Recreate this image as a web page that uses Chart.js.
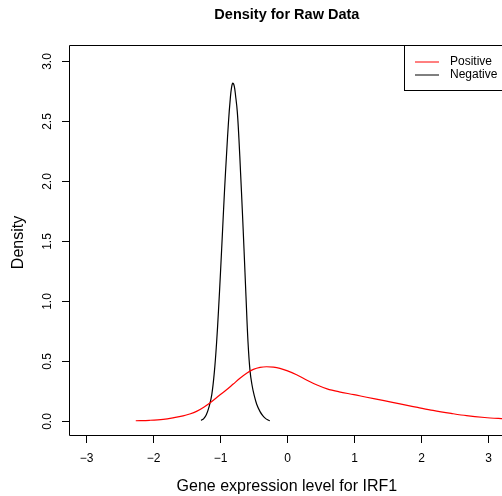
<!DOCTYPE html>
<html lang="en">
<head>
    <meta charset="UTF-8">
    <script src="https://cdn.jsdelivr.net/npm/chart.js@4.4.6/dist/chart.umd.min.js"></script>
    <title>Density for Raw Data</title>
    <style>
        html, body { margin: 0; padding: 0; background: #fff; overflow: hidden; }
    </style>
</head>
<body>
    <canvas id="density-chart" width="502" height="496"></canvas>

    <script>
        // values
        const negX = [-1.28, -1.24, -1.20, -1.16, -1.12, -1.08, -1.05, -1.02, -0.99, -0.96, -0.93, -0.90, -0.87, -0.845, -0.825, -0.806, -0.785, -0.765, -0.74, -0.715, -0.69, -0.665, -0.64, -0.61, -0.58, -0.55, -0.52, -0.49, -0.45, -0.40, -0.36, -0.32, -0.28, -0.254]
        const negY = [0.005, 0.02, 0.055, 0.12, 0.22, 0.42, 0.64, 0.92, 1.24, 1.58, 1.92, 2.22, 2.50, 2.68, 2.78, 2.815, 2.79, 2.71, 2.58, 2.35, 2.06, 1.76, 1.44, 1.04, 0.66, 0.42, 0.30, 0.22, 0.14, 0.078, 0.045, 0.022, 0.008, 0.002]

        const posX = [-2.254, -2.05, -1.846, -1.70, -1.548, -1.45, -1.348, -1.24, -1.124, -1.01, -0.90, -0.80, -0.70, -0.60, -0.50, -0.40, -0.303, -0.20, -0.104, 0.00, 0.145, 0.30, 0.45, 0.60, 0.78, 1.00, 1.19, 1.45, 1.687, 1.95, 2.18, 2.45, 2.68, 2.95, 3.20, 3.30]
        const posY = [0.002, 0.006, 0.014, 0.026, 0.042, 0.058, 0.080, 0.115, 0.161, 0.212, 0.260, 0.308, 0.356, 0.398, 0.430, 0.447, 0.452, 0.449, 0.439, 0.420, 0.386, 0.340, 0.300, 0.268, 0.243, 0.220, 0.198, 0.170, 0.142, 0.113, 0.088, 0.063, 0.044, 0.029, 0.020, 0.017]

        const xTicks = [-3, -2, -1, 0, 1, 2, 3]
        const xTickLabels = ['\u22123', '\u22122', '\u22121', '0', '1', '2', '3']
        const yTicks = [0, 0.5, 1, 1.5, 2, 2.5, 3]
        const yTickLabels = ['0.0', '0.5', '1.0', '1.5', '2.0', '2.5', '3.0']

        const seriesNames = ['Positive', 'Negative']
        const seriesColors = ['#ff0000', '#000000']

        const font = '"Liberation Sans", Arial, Helvetica, sans-serif'

        function toPoints(xs, ys) {
            return xs.map((x, i) => ({ x: x, y: ys[i] }))
        }

        // R style axes, box, titles and legend
        const rAxes = {
            id: 'rAxes',
            afterDraw(chart) {
                const ctx = chart.ctx
                const a = chart.chartArea
                const sx = chart.scales.x
                const sy = chart.scales.y
                ctx.save()
                ctx.strokeStyle = '#000'
                ctx.fillStyle = '#000'
                ctx.lineWidth = 1

                // box (right side falls off the canvas)
                ctx.beginPath()
                ctx.moveTo(a.right + 10, a.top + 0.5)
                ctx.lineTo(a.left + 0.5, a.top + 0.5)
                ctx.lineTo(a.left + 0.5, a.bottom - 0.5)
                ctx.lineTo(a.right + 10, a.bottom - 0.5)
                ctx.stroke()

                // x ticks
                ctx.font = '12px ' + font
                ctx.textAlign = 'center'
                ctx.textBaseline = 'middle'
                xTicks.forEach((v, i) => {
                    const px = Math.round(sx.getPixelForValue(v)) + 0.5
                    ctx.beginPath()
                    ctx.moveTo(px, a.bottom)
                    ctx.lineTo(px, a.bottom + 7)
                    ctx.stroke()
                    ctx.fillText(xTickLabels[i], px, a.bottom + 23)
                })

                // y ticks, labels parallel to the axis
                yTicks.forEach((v, i) => {
                    const py = Math.round(sy.getPixelForValue(v)) + 0.5
                    ctx.beginPath()
                    ctx.moveTo(a.left, py)
                    ctx.lineTo(a.left - 7, py)
                    ctx.stroke()
                    ctx.save()
                    ctx.translate(a.left - 21, py)
                    ctx.rotate(-Math.PI / 2)
                    ctx.fillText(yTickLabels[i], 0, 0)
                    ctx.restore()
                })

                // titles
                const midX = sx.getPixelForValue(0)
                ctx.font = 'bold 14.5px ' + font
                ctx.fillText('Density for Raw Data', midX, 15)
                ctx.font = '16px ' + font
                ctx.fillText('Gene expression level for IRF1', midX, 487)
                ctx.save()
                ctx.translate(19, (a.top + a.bottom) / 2 + 2)
                ctx.rotate(-Math.PI / 2)
                ctx.fillText('Density', 0, 0)
                ctx.restore()

                // legend
                ctx.fillStyle = '#fff'
                ctx.fillRect(404, a.top, 110, 45)
                ctx.strokeRect(404.5, a.top + 0.5, 110, 45)
                ctx.font = '12px ' + font
                ctx.textAlign = 'left'
                seriesNames.forEach((name, i) => {
                    const ly = a.top + 17 + i * 13
                    ctx.strokeStyle = seriesColors[i]
                    ctx.beginPath()
                    ctx.moveTo(415, ly)
                    ctx.lineTo(439, ly)
                    ctx.stroke()
                    ctx.fillStyle = '#000'
                    ctx.fillText(name, 450, ly)
                })
                ctx.restore()
            }
        }

        const ctx = document.getElementById('density-chart').getContext('2d')

        new Chart(ctx, {
            type: 'scatter',
            data: {
                datasets: [
                    {
                        label: seriesNames[0],
                        data: toPoints(posX, posY),
                        showLine: true,
                        borderColor: seriesColors[0],
                        borderWidth: 1.2,
                        pointRadius: 0,
                        cubicInterpolationMode: 'monotone'
                    },
                    {
                        label: seriesNames[1],
                        data: toPoints(negX, negY),
                        showLine: true,
                        borderColor: seriesColors[1],
                        borderWidth: 1.2,
                        pointRadius: 0,
                        tension: 0.4
                    }
                ]
            },
            options: {
                responsive: false,
                animation: false,
                layout: {
                    padding: { left: 69, top: 45, right: 0, bottom: 60 }
                },
                scales: {
                    x: { type: 'linear', min: -3.25, max: 3.209, display: false },
                    y: { type: 'linear', min: -0.125, max: 3.133, display: false }
                },
                plugins: {
                    legend: { display: false },
                    tooltip: { enabled: false }
                }
            },
            plugins: [rAxes]
        });
    </script>
</body>
</html>
